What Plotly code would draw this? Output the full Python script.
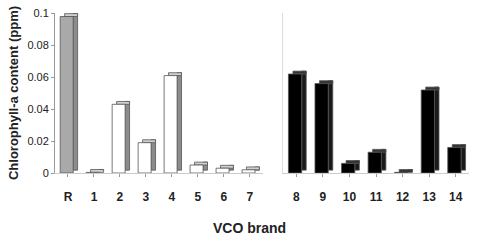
import plotly.graph_objects as go
from plotly.subplots import make_subplots

cats_left = ["R", "1", "2", "3", "4", "5", "6", "7"]
vals_left = [0.098, 0.0004, 0.043, 0.019, 0.061, 0.005, 0.003, 0.002]
colors_left = ["#a9a9a9"] + ["#ffffff"] * 7

cats_right = ["8", "9", "10", "11", "12", "13", "14"]
vals_right = [0.062, 0.056, 0.006, 0.013, 0.0004, 0.052, 0.016]
colors_right = ["#000000"] * 7

y_ticks = [0, 0.02, 0.04, 0.06, 0.08, 0.1]
y_tick_text = ["0", "0.02", "0.04", "0.06", "0.08", "0.1"]

DEPTH = 0.0018

fig = make_subplots(rows=1, cols=2, shared_yaxes=False, horizontal_spacing=0.049,
                    column_widths=[0.502, 0.449])


def add_bars(cats, vals, colors, col):
    side_cols = ["#8c8c8c" if c != "#000000" else "#1a1a1a" for c in colors]
    top_cols = ["#d0d0d0" if c != "#000000" else "#333333" for c in colors]
    # side face
    fig.add_trace(go.Bar(x=cats, y=vals, base=[DEPTH] * len(vals), width=0.17, offset=0.2,
                         marker=dict(color=side_cols, line=dict(color="#555555", width=0.8)),
                         showlegend=False, hoverinfo="skip"), row=1, col=col)
    # top face
    fig.add_trace(go.Bar(x=cats, y=[DEPTH] * len(vals), base=vals, width=0.5, offset=-0.13,
                         marker=dict(color=top_cols, line=dict(color="#555555", width=0.8)),
                         showlegend=False, hoverinfo="skip"), row=1, col=col)
    # front face
    fig.add_trace(go.Bar(x=cats, y=vals, width=0.5, offset=-0.3,
                         marker=dict(color=colors, line=dict(color="#555555", width=0.8)),
                         showlegend=False), row=1, col=col)


add_bars(cats_left, vals_left, colors_left, 1)
add_bars(cats_right, vals_right, colors_right, 2)

axis_font = dict(family="Liberation Sans, Arial", size=12, color="#222222", weight="bold")

fig.update_xaxes(showgrid=False, showline=True, linecolor="#cccccc", linewidth=1,
                 ticks="outside", ticklen=3, tickcolor="#999999", tickfont=axis_font,
                 ticklabelstandoff=10, zeroline=False)
fig.update_yaxes(range=[0, 0.1002], showgrid=False, zeroline=False)
fig.update_yaxes(row=1, col=1, tickvals=y_ticks, ticktext=y_tick_text, showline=True,
                 linecolor="#999999", ticks="outside", ticklen=3, tickcolor="#999999",
                 tickfont=dict(family="Liberation Sans, Arial", size=11, color="#222222"),
                 title=dict(text="<b>Chlorophyll-a content (ppm)</b>",
                            font=dict(family="Liberation Sans, Arial", size=13, color="#222222"),
                            standoff=5))
fig.update_yaxes(row=1, col=2, showticklabels=False, showline=True, linecolor="#dddddd",
                 ticks="")

fig.update_layout(
    width=477, height=244,
    margin=dict(l=55, r=8, t=7, b=71),
    barmode="overlay",
    plot_bgcolor="white", paper_bgcolor="white",
    font=dict(family="Liberation Sans, Arial", color="#222222"),
    annotations=[dict(text="<b>VCO brand</b>", x=0.471, y=0, xref="paper", yref="paper",
                      xanchor="center", yanchor="middle", yshift=-55, showarrow=False,
                      font=dict(family="Liberation Sans, Arial", size=14, color="#222222"))],
)

fig.write_html("out.html")
